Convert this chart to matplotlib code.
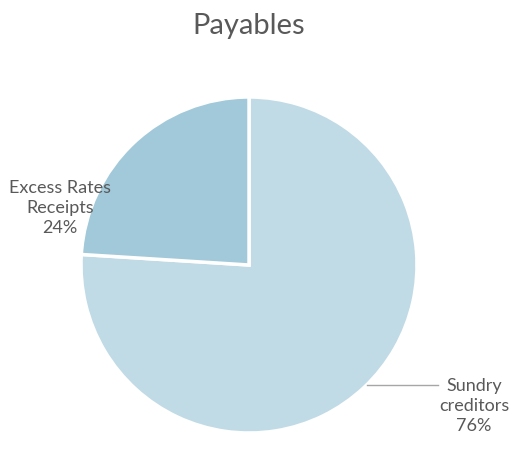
import matplotlib
matplotlib.use("Agg")
import matplotlib.pyplot as plt

labels = ["Sundry\ncreditors", "Excess Rates\nReceipts"]
values = [76, 24]
colors = ["#C0DBE5", "#A1C9D9"]

plt.rcParams["font.family"] = ["Lato", "DejaVu Sans"]
text_color = "#595959"

fig = plt.figure(figsize=(5.25, 4.5), dpi=100)
ax = fig.add_axes([0, 0, 1, 1])

ax.pie(values, colors=colors, startangle=90, counterclock=False, radius=1,
       wedgeprops=dict(edgecolor="white", linewidth=2.5))

# pie centre at (249, 265) px from top-left, radius 168 px
# (limits set after pie, which overrides them)
r = 168.0
cx, cy = 249.0, 450.0 - 265.0
ax.set_xlim(-cx / r, (525 - cx) / r)
ax.set_ylim(-cy / r, (450 - cy) / r)
ax.set_aspect("equal")
ax.axis("off")

def px(x, y):
    return (x - cx) / r, (450 - y - cy) / r

# data labels
x0, y0 = px(474, 406)
ax.text(x0, y0, f"{labels[0]}\n{values[0]}%", ha="center", va="center",
        fontsize=13, color=text_color, linespacing=1.32)
x1, y1 = px(60, 208)
ax.text(x1, y1, f"{labels[1]}\n{values[1]}%", ha="center", va="center",
        fontsize=13, color=text_color, linespacing=1.32)

# leader line for Sundry creditors
la, lb = px(367, 385), px(438, 385)
ax.plot([la[0], lb[0]], [la[1], lb[1]], color="#A6A6A6", linewidth=1)

fig.text(249 / 525, 1 - 26 / 450, "Payables", ha="center", va="center",
         fontsize=21, color=text_color)

fig.savefig("out.png", dpi=100)
